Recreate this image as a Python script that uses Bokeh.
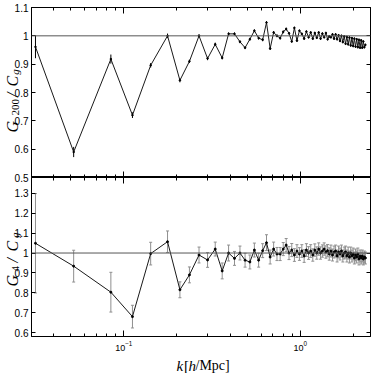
import math
import numpy as np
from bokeh.plotting import figure
from bokeh.models import (ColumnDataSource, Whisker, TeeHead, Span,
                          LinearAxis, LogAxis, FixedTicker, Range1d)
from bokeh.layouts import column, row
from bokeh.core.properties import value
from bokeh.embed import file_html
from bokeh.resources import INLINE

# ---------------- data ----------------
k = [0.0316, 0.052, 0.0845, 0.112, 0.142, 0.177, 0.208,
     0.2355, 0.2669, 0.2983, 0.3297, 0.3611, 0.3925, 0.4239, 0.4553, 0.4867, 0.5181,
     0.5495, 0.5809, 0.6123, 0.6437, 0.6751, 0.7065, 0.7379, 0.7693, 0.8007, 0.8321,
     0.8635, 0.8949, 0.9263, 0.9577, 0.9891, 1.0205, 1.0519, 1.0833, 1.1147, 1.1461,
     1.1775, 1.2089, 1.2403, 1.2717, 1.3031, 1.3345, 1.3659, 1.3973, 1.4287, 1.4601,
     1.4915, 1.5229, 1.5543, 1.5857, 1.6171, 1.6485, 1.6799, 1.7113, 1.7427, 1.7741,
     1.8055, 1.8369, 1.8683, 1.8997, 1.9311, 1.9625, 1.9939, 2.0253, 2.0567, 2.0881,
     2.1195, 2.1509, 2.1823, 2.2137, 2.2451, 2.2765, 2.3079, 2.3393]

g200 = [0.961, 0.590, 0.918, 0.720, 0.896, 1.000, 0.843,
        0.910, 1.000, 0.920, 0.970, 0.922, 1.007, 1.007, 0.979, 0.958, 0.988,
        1.018, 0.992, 0.986, 1.047, 0.955, 1.012, 1.000, 0.992, 1.014, 1.024,
        1.009, 0.980, 1.028, 0.983, 1.018, 1.007, 0.990, 1.015, 0.995, 1.012,
        0.990, 1.010, 0.993, 1.012, 0.990, 1.008, 0.995, 1.010, 0.988, 0.998,
        0.995, 1.005, 0.990, 1.005, 0.988, 1.002, 0.982, 1.000, 0.978, 0.998,
        0.972, 0.996, 0.970, 0.994, 0.966, 0.992, 0.964, 0.990, 0.962, 0.988,
        0.960, 0.986, 0.958, 0.984, 0.958, 0.980, 0.960, 0.968]

g200_err = [0.040, 0.018, 0.016, 0.010, 0.008, 0.008, 0.007,
            0.006, 0.006, 0.006, 0.006, 0.005, 0.005, 0.005, 0.005, 0.005, 0.005,
            0.005, 0.005, 0.005, 0.005, 0.005, 0.005, 0.005, 0.005, 0.005, 0.005,
            0.004, 0.004, 0.004, 0.004, 0.004, 0.004, 0.004, 0.004, 0.004, 0.004,
            0.004, 0.004, 0.004, 0.004, 0.004, 0.004, 0.004, 0.004, 0.004, 0.004,
            0.004, 0.004, 0.004, 0.004, 0.004, 0.004, 0.004, 0.004, 0.004, 0.004,
            0.004, 0.004, 0.004, 0.004, 0.004, 0.004, 0.004, 0.004, 0.004, 0.004,
            0.004, 0.004, 0.004, 0.004, 0.004, 0.004, 0.004, 0.004]

g4 = [1.049, 0.934, 0.803, 0.680, 0.997, 1.057, 0.815,
      0.890, 0.990, 0.965, 1.020, 0.910, 1.000, 0.973, 1.000, 0.964, 0.955,
      1.015, 0.964, 1.012, 1.052, 0.980, 1.020, 0.995, 0.995, 1.020, 1.040,
      1.000, 1.015, 0.990, 1.010, 0.995, 1.010, 0.985, 1.015, 1.000, 1.010,
      0.990, 1.015, 1.000, 1.020, 1.000, 1.010, 1.020, 1.005, 1.012, 0.995,
      1.010, 0.990, 1.005, 1.010, 0.985, 1.005, 0.995, 1.010, 0.985, 1.000,
      1.005, 0.985, 1.000, 0.980, 1.000, 0.985, 0.995, 0.975, 0.990, 0.980,
      0.995, 0.970, 0.985, 0.975, 0.985, 0.970, 0.980, 0.975]

g4_err = [0.250, 0.080, 0.100, 0.057, 0.057, 0.054, 0.040,
          0.040, 0.040, 0.037, 0.035, 0.040, 0.040, 0.035, 0.035, 0.035, 0.035,
          0.035, 0.035, 0.035, 0.040, 0.035, 0.035, 0.033, 0.033, 0.033, 0.033,
          0.033, 0.033, 0.032, 0.032, 0.032, 0.032, 0.032, 0.032, 0.032, 0.032,
          0.031, 0.031, 0.031, 0.031, 0.031, 0.031, 0.031, 0.031, 0.031, 0.031,
          0.030, 0.030, 0.030, 0.030, 0.030, 0.030, 0.030, 0.030, 0.030, 0.030,
          0.030, 0.030, 0.030, 0.030, 0.030, 0.030, 0.030, 0.030, 0.030, 0.030,
          0.030, 0.030, 0.030, 0.030, 0.030, 0.030, 0.030, 0.030]

x_limits = (0.03, 2.5)
x_major = [0.1, 1.0]
x_minor = [0.04, 0.05, 0.06, 0.07, 0.08, 0.09,
           0.2, 0.3, 0.4, 0.5, 0.6, 0.7, 0.8, 0.9, 2.0]
top_limits = (0.5, 1.1)
bot_limits = (0.58, 1.38)
top_ticks = [0.5, 0.6, 0.7, 0.8, 0.9, 1.0, 1.1]
top_tick_text = ["0.5", "0.6", "0.7", "0.8", "0.9", "1", "1.1"]
bot_ticks = [0.6, 0.7, 0.8, 0.9, 1.0, 1.1, 1.2, 1.3]
bot_tick_text = ["0.6", "0.7", "0.8", "0.9", "1", "1.1", "1.2", "1.3"]

assert len(k) == len(g200) == len(g200_err) == len(g4) == len(g4_err)

# ---------------- layout constants (pixels) ----------------
TICK_FONT = "Liberation Sans"
LABEL_FONT = "Liberation Serif"
LINE_COL = "#1a1a1a"
LEFT_W = 30            # strip holding y tick labels and y titles
MAIN_W = 341
TOP_BORDER = 7
TOP_FRAME = 170
BOT_FRAME = 159
BOT_BORDER = 17
TOP_H = TOP_BORDER + TOP_FRAME
BOT_H = BOT_FRAME + BOT_BORDER
XLAB_H = 20

xr = Range1d(*x_limits)


def style_axis(ax, show_labels, major_in=4, minor_in=0):
    ax.major_tick_in = major_in
    ax.major_tick_out = 0
    ax.minor_tick_in = minor_in
    ax.minor_tick_out = 0
    ax.axis_line_color = "black"
    ax.major_tick_line_color = "black"
    ax.minor_tick_line_color = "black" if minor_in else None
    if show_labels:
        ax.major_label_text_font = TICK_FONT
        ax.major_label_text_font_size = "9px"
        ax.major_label_text_color = "black"
        ax.major_label_standoff = 4
    else:
        ax.major_label_text_color = None
        ax.major_label_standoff = 0


def make_panel(height, ylim, yticks, below_labels, top_border, bottom_border):
    p = figure(width=MAIN_W, height=height, x_axis_type="log",
               x_range=xr, y_range=Range1d(*ylim),
               x_axis_location="below" if below_labels else "above",
               output_backend="svg", toolbar_location=None,
               min_border_left=1, min_border_right=1, min_border_top=top_border,
               min_border_bottom=bottom_border,
               background_fill_color="white", border_fill_color="white")
    p.grid.visible = False
    p.outline_line_color = "black"
    p.outline_line_width = 1
    p.xaxis.ticker = FixedTicker(ticks=x_major, minor_ticks=x_minor)
    style_axis(p.xaxis[0], below_labels, major_in=6, minor_in=3)
    extra = LogAxis(ticker=FixedTicker(ticks=x_major, minor_ticks=x_minor))
    style_axis(extra, False, major_in=6, minor_in=3)
    p.add_layout(extra, "above" if below_labels else "below")
    p.yaxis.ticker = FixedTicker(ticks=yticks, minor_ticks=[])
    style_axis(p.yaxis[0], False, major_in=4)
    right = LinearAxis(ticker=FixedTicker(ticks=yticks, minor_ticks=[]))
    style_axis(right, False, major_in=4)
    p.add_layout(right, "right")
    p.add_layout(Span(location=1.0, dimension="width", line_color="#555555", line_width=1))
    return p


def add_series(p, y, err, bar_col, cap, msize):
    y = np.asarray(y)
    e = np.asarray(err)
    src = ColumnDataSource(dict(k=k, y=y, lo=y - e, up=y + e))
    heads = {}
    if cap:
        heads = dict(upper_head=TeeHead(size=cap, line_color=bar_col, line_width=1),
                     lower_head=TeeHead(size=cap, line_color=bar_col, line_width=1))
    else:
        heads = dict(upper_head=None, lower_head=None)
    p.add_layout(Whisker(base="k", upper="up", lower="lo", source=src, dimension="height",
                         line_color=bar_col, line_width=1, **heads))
    p.line("k", "y", source=src, line_color=LINE_COL, line_width=1)
    p.scatter("k", "y", source=src, size=msize, color="black")


top = make_panel(TOP_H, top_limits, top_ticks, False, TOP_BORDER, 0)
add_series(top, g200, g200_err, "black", 0, 1.6)

bot = make_panel(BOT_H, bot_limits, bot_ticks, True, 0, BOT_BORDER)
add_series(bot, g4, g4_err, "#8f8f8f", 3, 2)

# ---- left strip: same vertical scales as the two panels, extended over the strip ----
STRIP_H = TOP_H + BOT_H
upp_t = (top_limits[1] - top_limits[0]) / TOP_FRAME
upp_b = (bot_limits[1] - bot_limits[0]) / BOT_FRAME
strip = figure(width=LEFT_W, height=STRIP_H, x_range=Range1d(0, LEFT_W),
               y_range=Range1d(top_limits[0] - BOT_H * upp_t, top_limits[1] + TOP_BORDER * upp_t),
               output_backend="svg", toolbar_location=None, min_border=0,
               background_fill_color="white", border_fill_color="white")
strip.extra_y_ranges = {"bot": Range1d(bot_limits[0] - BOT_BORDER * upp_b,
                                       bot_limits[1] + TOP_H * upp_b)}
strip.axis.visible = False
strip.grid.visible = False
strip.outline_line_color = None

strip.text(x=[LEFT_W - 2] * len(top_ticks), y=top_ticks, text=top_tick_text,
           text_font=value(TICK_FONT), text_font_size="10px", text_color="black",
           text_align="right", text_baseline="middle")
strip.text(x=[LEFT_W - 2] * len(bot_ticks), y=bot_ticks, text=bot_tick_text,
           text_font=value(TICK_FONT), text_font_size="10px", text_color="black",
           text_align="right", text_baseline="middle", y_range_name="bot")


def rot_text(xb, y0, txt, size, italic, rng="default"):
    strip.text(x=[xb], y=[y0], text=[txt], angle=math.pi / 2,
               text_font=value(LABEL_FONT), text_font_size=size,
               text_font_style="italic" if italic else "normal",
               text_color="black", text_align="left", text_baseline="alphabetic",
               y_range_name=rng)


# G_200 / C_g
rot_text(12.0, 0.659, "G", "16px", True)
rot_text(14.5, 0.719, "200", "11px", False)
rot_text(12.0, 0.784, "/", "16px", True)
rot_text(12.0, 0.821, "C", "16px", True)
rot_text(14.5, 0.863, "g", "11px", True)
# G_4 / C_g
rot_text(12.0, 0.832, "G", "16px", True, "bot")
rot_text(14.5, 0.907, "4", "11px", False, "bot")
rot_text(12.0, 0.952, "/", "16px", True, "bot")
rot_text(12.0, 1.008, "C", "16px", True, "bot")
rot_text(14.5, 1.076, "g", "11px", True, "bot")

# ---- x title strip ----
XW = LEFT_W + MAIN_W
xlab = figure(width=XW, height=XLAB_H, x_range=Range1d(0, XW), y_range=Range1d(0, XLAB_H),
              output_backend="svg", toolbar_location=None, min_border=0,
              background_fill_color="white", border_fill_color="white")
xlab.axis.visible = False
xlab.grid.visible = False
xlab.outline_line_color = None
for xs, txt, it, fs in [(176, "k", True, "15px"), (183.5, "[", False, "15px"),
                        (188, "h", True, "15px"), (195, "/Mpc]", False, "14px")]:
    xlab.text(x=[xs], y=[8], text=[txt], text_font=value(LABEL_FONT), text_font_size=fs,
              text_font_style="italic" if it else "normal", text_color="black",
              text_align="left", text_baseline="alphabetic")

layout = column(row(strip, column(top, bot)), xlab)
open("out.html", "w").write(file_html(layout, INLINE))
